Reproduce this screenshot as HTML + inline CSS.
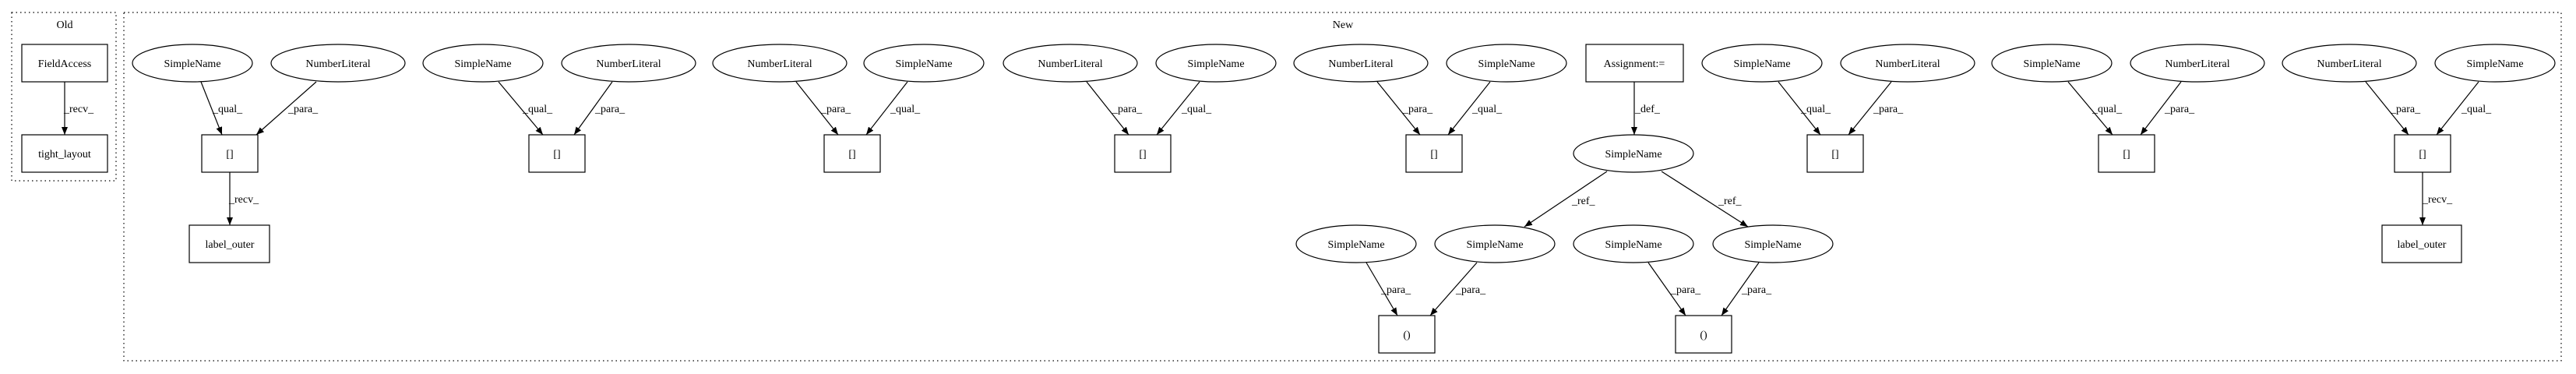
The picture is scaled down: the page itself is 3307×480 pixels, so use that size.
<!DOCTYPE html>
<html><head><meta charset="utf-8"><style>
html,body{margin:0;padding:0;background:#fff;}
svg{display:block;}
text{font-family:"Liberation Serif",serif;font-size:14px;fill:#000;}
.n{text-anchor:middle;}
</style></head><body>
<svg width="3307" height="480" viewBox="0 0 3307 480" xmlns="http://www.w3.org/2000/svg">
<defs><marker id="a" markerWidth="10" markerHeight="8" refX="10" refY="4" orient="auto" markerUnits="userSpaceOnUse"><path d="M0,0 L10,4 L0,8 z" fill="#000"/></marker></defs>
<g fill="none" stroke="#000" stroke-width="1.2" stroke-dasharray="1.5,4">
<rect x="15" y="16" width="134" height="216"/>
<rect x="159" y="16" width="3129" height="447"/>
</g>
<text class="n" x="83" y="36">Old</text>
<text class="n" x="1724" y="36">New</text>
<g fill="#fff" stroke="#000" stroke-width="1.2">
<rect x="28" y="57" width="110" height="48"/>
<rect x="28" y="173" width="110" height="48"/>
<rect x="259" y="173" width="72" height="48"/>
<rect x="243" y="289" width="103" height="48"/>
<rect x="679" y="173" width="72" height="48"/>
<rect x="1058" y="173" width="72" height="48"/>
<rect x="1431" y="173" width="72" height="48"/>
<rect x="1805" y="173" width="72" height="48"/>
<rect x="2036" y="57" width="125" height="48"/>
<rect x="2320" y="173" width="72" height="48"/>
<rect x="2694" y="173" width="72" height="48"/>
<rect x="3074" y="173" width="72" height="48"/>
<rect x="3058" y="289" width="102" height="48"/>
<rect x="1770" y="405" width="72" height="48"/>
<rect x="2151" y="405" width="72" height="48"/>
<ellipse cx="247" cy="81" rx="77" ry="24"/>
<ellipse cx="434" cy="81" rx="86" ry="24"/>
<ellipse cx="620" cy="81" rx="77" ry="24"/>
<ellipse cx="807" cy="81" rx="86" ry="24"/>
<ellipse cx="1001" cy="81" rx="86" ry="24"/>
<ellipse cx="1186" cy="81" rx="77" ry="24"/>
<ellipse cx="1374" cy="81" rx="86" ry="24"/>
<ellipse cx="1561" cy="81" rx="77" ry="24"/>
<ellipse cx="1747" cy="81" rx="86" ry="24"/>
<ellipse cx="1934" cy="81" rx="77" ry="24"/>
<ellipse cx="2262" cy="81" rx="77" ry="24"/>
<ellipse cx="2449" cy="81" rx="86" ry="24"/>
<ellipse cx="2634" cy="81" rx="77" ry="24"/>
<ellipse cx="2821" cy="81" rx="86" ry="24"/>
<ellipse cx="3016" cy="81" rx="86" ry="24"/>
<ellipse cx="3203" cy="81" rx="77" ry="24"/>
<ellipse cx="2097" cy="197" rx="77" ry="24"/>
<ellipse cx="1741" cy="313" rx="77" ry="24"/>
<ellipse cx="1919" cy="313" rx="77" ry="24"/>
<ellipse cx="2097" cy="313" rx="77" ry="24"/>
<ellipse cx="2276" cy="313" rx="77" ry="24"/>
</g>
<g stroke="#000" stroke-width="1.2" marker-end="url(#a)">
<line x1="83" y1="105" x2="83" y2="173"/>
<line x1="258" y1="105" x2="285" y2="173"/>
<line x1="406" y1="105" x2="329" y2="173"/>
<line x1="295" y1="221" x2="295" y2="289"/>
<line x1="640" y1="105" x2="697" y2="173"/>
<line x1="786" y1="105" x2="737" y2="173"/>
<line x1="1022" y1="105" x2="1076" y2="173"/>
<line x1="1165" y1="105" x2="1112" y2="173"/>
<line x1="1395" y1="105" x2="1449" y2="173"/>
<line x1="1540" y1="105" x2="1485" y2="173"/>
<line x1="1768" y1="105" x2="1823" y2="173"/>
<line x1="1913" y1="105" x2="1859" y2="173"/>
<line x1="2098" y1="105" x2="2098" y2="173"/>
<line x1="2283" y1="105" x2="2337" y2="173"/>
<line x1="2428" y1="105" x2="2373" y2="173"/>
<line x1="2655" y1="105" x2="2712" y2="173"/>
<line x1="2800" y1="105" x2="2748" y2="173"/>
<line x1="3037" y1="105" x2="3092" y2="173"/>
<line x1="3182" y1="105" x2="3128" y2="173"/>
<line x1="3110" y1="221" x2="3110" y2="289"/>
<line x1="2063" y1="220" x2="1957" y2="291"/>
<line x1="2133" y1="220" x2="2244" y2="291"/>
<line x1="1754" y1="337" x2="1794" y2="405"/>
<line x1="1896" y1="337" x2="1836" y2="405"/>
<line x1="2116" y1="337" x2="2164" y2="405"/>
<line x1="2258" y1="337" x2="2210" y2="405"/>
</g>
<g>
<text x="82" y="144">_recv_</text>
<text x="273" y="144">_qual_</text>
<text x="370" y="144">_para_</text>
<text x="294" y="260">_recv_</text>
<text x="671" y="144">_qual_</text>
<text x="764" y="144">_para_</text>
<text x="1054" y="144">_para_</text>
<text x="1143" y="144">_qual_</text>
<text x="1428" y="144">_para_</text>
<text x="1517" y="144">_qual_</text>
<text x="1801" y="144">_para_</text>
<text x="1890" y="144">_qual_</text>
<text x="2099" y="144">_def_</text>
<text x="2312" y="144">_qual_</text>
<text x="2405" y="144">_para_</text>
<text x="2686" y="144">_qual_</text>
<text x="2779" y="144">_para_</text>
<text x="3069" y="144">_para_</text>
<text x="3160" y="144">_qual_</text>
<text x="3110" y="260">_recv_</text>
<text x="2018" y="262">_ref_</text>
<text x="2206" y="262">_ref_</text>
<text x="1773" y="376">_para_</text>
<text x="1869" y="376">_para_</text>
<text x="2145" y="376">_para_</text>
<text x="2236" y="376">_para_</text>
</g>
<g class="n">
<text class="n" x="83" y="86">FieldAccess</text>
<text class="n" x="83" y="202">tight_layout</text>
<text class="n" x="295" y="202">[]</text>
<text class="n" x="295" y="318">label_outer</text>
<text class="n" x="715" y="202">[]</text>
<text class="n" x="1094" y="202">[]</text>
<text class="n" x="1467" y="202">[]</text>
<text class="n" x="1841" y="202">[]</text>
<text class="n" x="2098" y="86">Assignment:=</text>
<text class="n" x="2356" y="202">[]</text>
<text class="n" x="2730" y="202">[]</text>
<text class="n" x="3110" y="202">[]</text>
<text class="n" x="3109" y="318">label_outer</text>
<text class="n" x="1806" y="434">()</text>
<text class="n" x="2187" y="434">()</text>
<text class="n" x="247" y="86">SimpleName</text>
<text class="n" x="434" y="86">NumberLiteral</text>
<text class="n" x="620" y="86">SimpleName</text>
<text class="n" x="807" y="86">NumberLiteral</text>
<text class="n" x="1001" y="86">NumberLiteral</text>
<text class="n" x="1186" y="86">SimpleName</text>
<text class="n" x="1374" y="86">NumberLiteral</text>
<text class="n" x="1561" y="86">SimpleName</text>
<text class="n" x="1747" y="86">NumberLiteral</text>
<text class="n" x="1934" y="86">SimpleName</text>
<text class="n" x="2262" y="86">SimpleName</text>
<text class="n" x="2449" y="86">NumberLiteral</text>
<text class="n" x="2634" y="86">SimpleName</text>
<text class="n" x="2821" y="86">NumberLiteral</text>
<text class="n" x="3016" y="86">NumberLiteral</text>
<text class="n" x="3203" y="86">SimpleName</text>
<text class="n" x="2097" y="202">SimpleName</text>
<text class="n" x="1741" y="318">SimpleName</text>
<text class="n" x="1919" y="318">SimpleName</text>
<text class="n" x="2097" y="318">SimpleName</text>
<text class="n" x="2276" y="318">SimpleName</text>
</g>
</svg>
</body></html>
